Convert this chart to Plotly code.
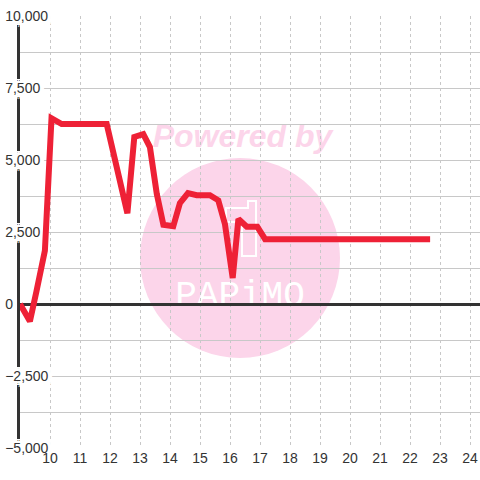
import plotly.graph_objects as go

# hours of day vs value
hours = [9.0, 9.33, 9.55, 9.83, 10.05, 10.39, 11.89, 12.28, 12.58, 12.81, 13.11,
         13.33, 13.56, 13.78, 14.11, 14.33, 14.6, 14.89, 15.33, 15.61, 15.83,
         16.09, 16.28, 16.56, 16.91, 17.17, 22.67]
values = [0, -600, 450, 1850, 6450, 6250, 6250, 4520, 3150, 5800, 5900,
          5450, 3820, 2750, 2700, 3500, 3850, 3780, 3780, 3600, 2780,
          900, 2950, 2680, 2680, 2250, 2250]
x_ticks = list(range(10, 25))
y_ticks = [-5000, -2500, 0, 2500, 5000, 7500, 10000]

# plot area on screen: x 20..480, y 16..448
def px_x(p):
    return (p - 20) / 460


def px_y(p):
    return (448 - p) / 432


pink = "#fcd5ea"
halo = ", ".join(f"{dx}px {dy}px 0 white" for dx in (-4, -2, 0, 2, 4) for dy in (-4, -2, 0, 2, 4))

fig = go.Figure()
fig.add_trace(
    go.Scatter(
        x=hours,
        y=values,
        mode="lines",
        line=dict(color="#ee2136", width=6),
        showlegend=False,
        hoverinfo="skip",
    )
)

# watermark
fig.add_shape(type="circle", xref="paper", yref="paper",
              x0=px_x(140), x1=px_x(340), y0=px_y(358), y1=px_y(158),
              fillcolor=pink, line_width=0, layer="below")
fig.add_shape(type="path", xref="paper", yref="paper", layer="below",
              path=(f"M {px_x(226)},{px_y(208)} L {px_x(248)},{px_y(208)} L {px_x(248)},{px_y(201)} "
                    f"L {px_x(256)},{px_y(201)} L {px_x(256)},{px_y(256)} L {px_x(242)},{px_y(256)} "
                    f"L {px_x(242)},{px_y(222)} L {px_x(226)},{px_y(222)} Z"),
              line=dict(color="white", width=2))
fig.add_shape(type="rect", xref="paper", yref="paper", layer="below",
              x0=px_x(140), x1=px_x(345), y0=px_y(152), y1=px_y(114),
              line_width=0,
              label=dict(text="Powered by", textposition="middle center",
                         font=dict(family="Liberation Sans", size=32, color=pink,
                                   weight="bold", style="italic")))
fig.add_shape(type="rect", xref="paper", yref="paper", layer="below",
              x0=px_x(160), x1=px_x(320), y0=px_y(310), y1=px_y(270),
              line_width=0,
              label=dict(text="PAPiMO", textposition="middle center",
                         font=dict(family="Liberation Mono", size=36, color="white")))

fig.update_layout(
    width=480,
    height=480,
    margin=dict(l=20, r=0, t=16, b=32),
    paper_bgcolor="white",
    plot_bgcolor="rgba(0,0,0,0)",
    font=dict(family="Liberation Sans", size=14, color="#333"),
    xaxis=dict(
        range=[9, 24.333],
        tickmode="array",
        tickvals=x_ticks,
        showgrid=True,
        gridcolor="#c8c8c8",
        griddash="3px,3px",
        zeroline=False,
        showline=False,
        ticks="",
        automargin=False,
        tickfont=dict(size=14, color="#333"),
        fixedrange=True,
    ),
    yaxis=dict(
        range=[-5000, 10000],
        tickmode="array",
        tickvals=y_ticks,
        tickformat=",",
        showgrid=True,
        gridcolor="#c8c8c8",
        minor=dict(dtick=1250, showgrid=True, gridcolor="#c8c8c8"),
        zeroline=True,
        zerolinecolor="#333",
        zerolinewidth=3,
        showline=True,
        linecolor="#333",
        linewidth=3,
        ticks="",
        automargin=False,
        ticklabelposition="inside",
        ticklabeloverflow="allow",
        ticklabelstandoff=-15,
        tickfont=dict(size=14, color="#333", shadow=halo),
        layer="below traces",
        fixedrange=True,
    ),
)

fig.write_html(
    "out.html",
    config={"displayModeBar": False},
    post_script="document.body.style.margin='0';document.body.style.overflow='hidden';",
)
